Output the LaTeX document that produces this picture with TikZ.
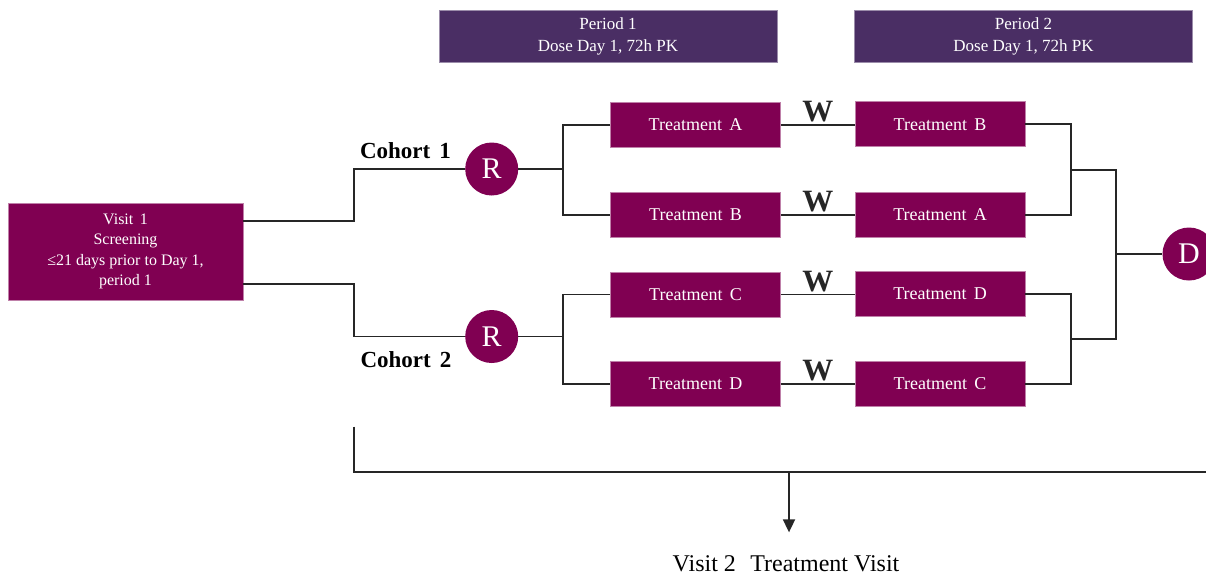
\documentclass[tikz,border=0pt]{standalone}
\usepackage{fontspec}
\setmainfont{Liberation Serif}
\usepackage{tikz}
\usetikzlibrary{arrows.meta}
\definecolor{plum}{RGB}{128,0,82}
\definecolor{grape}{RGB}{74,46,100}

\tikzset{
  trt/.style={rectangle, fill=plum, draw=plum!50!white, line width=0.6pt,
    text=white, minimum width=170pt, minimum height=45pt,
    font=\fontsize{18}{20}\selectfont},
  per/.style={rectangle, fill=grape, draw=grape!55!white, line width=0.6pt,
    text=white, minimum width=338pt, minimum height=52pt, align=center,
    font=\fontsize{17}{22}\selectfont},
  rnd/.style={circle, fill=plum, text=white, minimum size=53pt, inner sep=0pt,
    font=\fontsize{30}{30}\selectfont},
  wlab/.style={above, inner sep=2pt, font=\bfseries\fontsize{31}{31}\selectfont},
  coh/.style={font=\bfseries\fontsize{23}{23}\selectfont},
  link/.style={line width=1.8pt, black!85},
}

\begin{document}
\begin{tikzpicture}[x=1pt,y=-1pt]
    \useasboundingbox (0,0) rectangle (1206,576);

    % periods
    \node[per] (p1) at (608,36) {Period 1\\Dose Day 1, 72h PK};
    \node[per] (p2) at (1023.5,36.5) {Period 2\\Dose Day 1, 72h PK};

    % screening
    \node[trt, minimum width=235pt, minimum height=97pt, align=center,
      font=\fontsize{16}{20.5}\selectfont] (v1) at (125.5,251.5)
      {Visit\hspace{0.4em}1\\Screening\\≤21 days prior to Day 1,\\period 1};

    % randomisation
    \node[rnd] (r1) at (491.7,169) {R};
    \node[rnd] (r2) at (491.7,336.5) {R};
    \node[coh] (c1) at (405.5,151) {Cohort\hspace{0.4em}1};
    \node[coh] (c2) at (406,360) {Cohort\hspace{0.4em}2};

    % treatments
    \node[trt] (ta1) at (695.5,125) {Treatment\hspace{0.4em}A};
    \node[trt] (tb1) at (695.5,215) {Treatment\hspace{0.4em}B};
    \node[trt] (tc1) at (695.5,294.5) {Treatment\hspace{0.4em}C};
    \node[trt] (td1) at (695.5,384) {Treatment\hspace{0.4em}D};
    \node[trt] (tb2) at (940,124.2) {Treatment\hspace{0.4em}B};
    \node[trt] (ta2) at (940,215) {Treatment\hspace{0.4em}A};
    \node[trt] (td2) at (940,293.7) {Treatment\hspace{0.4em}D};
    \node[trt] (tc2) at (940,383.7) {Treatment\hspace{0.4em}C};

    \node[rnd] (d) at (1189,254) {D};
    \node[font=\fontsize{24}{24}\selectfont] (v2) at (786,564)
      {Visit 2\hspace{0.6em}Treatment Visit};

    \coordinate (s1) at (563,169);
    \coordinate (s2) at (563,336.5);
    \coordinate (m1) at (1071,169.6);
    \coordinate (m2) at (1071,338.7);
    \coordinate (m3) at (1116,254);
    \coordinate (bus) at (789,472);

    % connectors
    \draw[link] (v1.east |- 0,221) -- (354,221) |- (r1);
    \draw[link] (v1.east |- 0,284) -- (354,284) |- (r2);
    \draw[link] (r1) -- (s1);
    \draw[link] (ta1.west) -| (s1) |- (tb1.west);
    \draw[link] (r2) -- (s2);
    \draw[link] (tc1.west) -| (s2) |- (td1.west);

    \draw[link] (ta1) -- node[wlab] {W} (ta1 -| tb2.west);
    \draw[link] (tb1) -- node[wlab] {W} (tb1 -| ta2.west);
    \draw[link] (tc1) -- node[wlab] {W} (tc1 -| td2.west);
    \draw[link] (td1) -- node[wlab] {W} (td1 -| tc2.west);

    \draw[link] (tb2.east) -| (m1) |- (ta2.east);
    \draw[link] (td2.east) -| (m2) |- (tc2.east);
    \draw[link] (m1) -| (m3) |- (m2);
    \draw[link] (m3) -- (d);

    \draw[link] (354,426.7) |- (1206,472);
    \draw[link, -{Triangle[length=13pt,width=12pt]}, shorten >=20pt]
      (bus) -- (bus |- v2.north);
\end{tikzpicture}
\end{document}
